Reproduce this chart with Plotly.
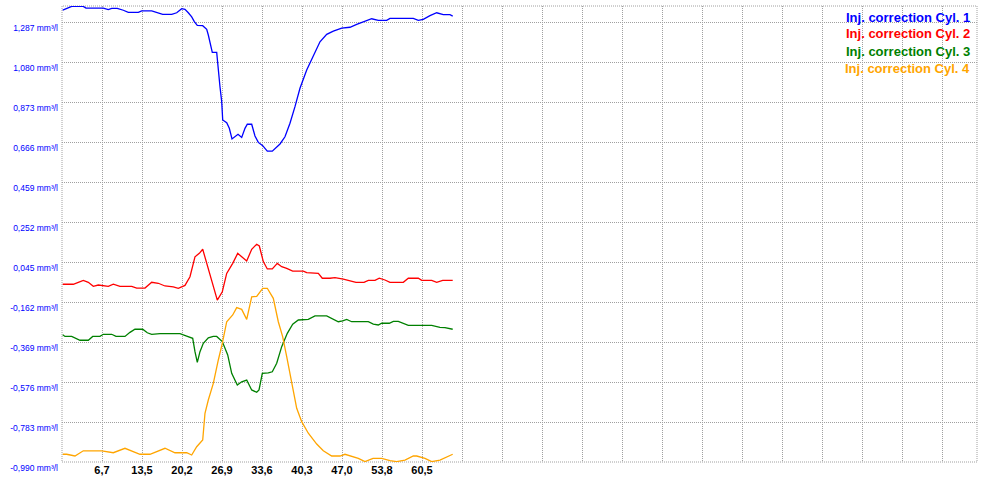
import plotly.graph_objects as go

# ---------------- data ----------------
cyl1_x = [0.12, 0.79, 1.63, 3.58, 4.03, 6.94, 7.78, 8.35, 9.29, 10.30, 11.14, 12.82, 13.39, 15.07,
          15.91, 16.92, 18.43, 19.27, 20.11, 20.66, 21.22, 21.79, 22.23, 22.73, 23.64, 24.31, 24.58,
          24.86, 25.25, 25.99, 26.26, 26.54, 26.83, 27.00, 27.67, 28.11, 28.56, 29.57, 30.19, 30.74,
          31.13, 31.87, 32.42, 32.98, 33.72, 34.49, 35.33, 36.62, 37.46, 38.30, 39.14, 39.98, 41.11,
          42.22, 43.34, 44.47, 45.58, 46.99, 48.38, 49.51, 50.90, 52.03, 53.14, 54.55, 55.10, 59.02,
          59.86, 60.70, 61.82, 62.95, 64.06, 65.18, 65.64]
cyl1_y = [1.349, 1.358, 1.368, 1.368, 1.359, 1.359, 1.351, 1.358, 1.358, 1.348, 1.337, 1.337, 1.345, 1.345,
          1.337, 1.327, 1.327, 1.335, 1.356, 1.353, 1.335, 1.314, 1.289, 1.270, 1.268, 1.249, 1.220,
          1.177, 1.130, 1.130, 1.022, 0.952, 0.875, 0.780, 0.766, 0.737, 0.682, 0.706, 0.690, 0.737,
          0.758, 0.758, 0.697, 0.664, 0.647, 0.619, 0.619, 0.656, 0.693, 0.763, 0.849, 0.944, 1.039,
          1.116, 1.185, 1.223, 1.240, 1.256, 1.260, 1.275, 1.291, 1.304, 1.296, 1.296, 1.306, 1.306,
          1.296, 1.301, 1.320, 1.335, 1.325, 1.325, 1.318]

cyl2_x = [0.12, 1.90, 2.74, 3.58, 4.42, 5.26, 6.10, 6.94, 7.78, 8.62, 9.74, 11.71, 12.55, 13.94, 15.07,
          16.18, 17.30, 18.70, 19.54, 20.66, 21.50, 22.34, 23.07, 23.64, 24.31, 25.42, 26.09, 26.93,
          27.67, 28.68, 29.52, 30.19, 31.03, 31.87, 32.71, 33.15, 33.82, 34.49, 35.33, 36.17, 36.91,
          37.75, 38.76, 40.54, 41.11, 43.06, 43.73, 45.02, 45.86, 47.26, 48.10, 49.39, 50.74, 51.46,
          52.58, 53.30, 54.26, 55.10, 57.34, 58.18, 59.86, 60.43, 62.11, 62.95, 63.96, 65.64]
cyl2_y = [-0.070, -0.070, -0.060, -0.050, -0.060, -0.081, -0.074, -0.076, -0.081, -0.070, -0.081, -0.081,
          -0.090, -0.090, -0.060, -0.065, -0.079, -0.084, -0.091, -0.076, -0.031, 0.072, 0.090, 0.111,
          0.038, -0.074, -0.152, -0.109, -0.014, 0.038, 0.090, 0.072, 0.050, 0.111, 0.137, 0.128, 0.047,
          0.009, 0.009, 0.038, 0.021, 0.012, -0.002, -0.002, -0.010, -0.014, -0.039, -0.039, -0.036,
          -0.043, -0.050, -0.060, -0.060, -0.050, -0.050, -0.039, -0.048, -0.060, -0.060, -0.039, -0.039,
          -0.050, -0.050, -0.060, -0.050, -0.050]

cyl3_x = [0.12, 0.50, 1.63, 3.02, 4.42, 5.16, 6.38, 6.94, 8.35, 9.07, 10.58, 11.42, 12.26, 13.56, 14.33,
          15.07, 16.46, 19.82, 20.95, 21.96, 22.34, 22.73, 23.18, 23.74, 24.58, 25.42, 25.99, 26.93,
          27.84, 28.51, 29.45, 30.19, 31.03, 31.87, 32.71, 33.10, 33.65, 34.66, 35.33, 36.07, 36.91,
          37.85, 38.76, 39.70, 41.38, 42.50, 44.47, 45.30, 46.42, 47.16, 47.83, 48.67, 51.46, 52.30,
          53.14, 53.71, 54.99, 55.66, 56.50, 58.18, 62.11, 63.50, 64.34, 65.64]
cyl3_y = [-0.331, -0.340, -0.340, -0.360, -0.360, -0.340, -0.340, -0.329, -0.329, -0.340, -0.340, -0.319,
          -0.303, -0.303, -0.321, -0.329, -0.326, -0.326, -0.338, -0.350, -0.419, -0.474, -0.419, -0.376,
          -0.347, -0.340, -0.340, -0.367, -0.436, -0.531, -0.592, -0.575, -0.566, -0.617, -0.629, -0.617,
          -0.531, -0.529, -0.523, -0.479, -0.393, -0.324, -0.277, -0.255, -0.252, -0.234, -0.234, -0.246,
          -0.264, -0.260, -0.252, -0.264, -0.264, -0.276, -0.281, -0.272, -0.272, -0.262, -0.262, -0.283,
          -0.283, -0.293, -0.295, -0.303]

cyl4_x = [0.12, 0.79, 2.18, 3.58, 6.67, 8.62, 10.58, 13.10, 14.78, 17.30, 18.98, 20.95, 21.79, 22.63,
          23.64, 24.02, 24.58, 25.42, 26.26, 26.93, 27.67, 28.68, 29.35, 30.19, 31.03, 31.87, 32.71,
          33.72, 34.49, 35.50, 36.34, 37.08, 37.75, 38.59, 39.43, 40.27, 41.38, 42.79, 43.90, 45.31,
          46.70, 47.54, 49.78, 50.90, 52.25, 53.71, 55.10, 56.23, 57.62, 59.02, 59.59, 60.98, 62.11,
          63.50, 65.64]
cyl4_y = [-0.950, -0.950, -0.959, -0.932, -0.932, -0.942, -0.919, -0.950, -0.950, -0.919, -0.942, -0.942,
          -0.954, -0.911, -0.876, -0.738, -0.669, -0.583, -0.462, -0.376, -0.264, -0.229, -0.191, -0.200,
          -0.252, -0.135, -0.133, -0.091, -0.091, -0.143, -0.264, -0.342, -0.445, -0.583, -0.712, -0.781,
          -0.841, -0.897, -0.932, -0.959, -0.959, -0.950, -0.971, -0.988, -0.971, -0.971, -0.983, -0.988,
          -0.980, -0.959, -0.959, -0.971, -0.988, -0.980, -0.950]

series_names = ["Inj. correction Cyl. 1", "Inj. correction Cyl. 2",
                "Inj. correction Cyl. 3", "Inj. correction Cyl. 4"]
series_colors = ["#0000FF", "#FF0000", "#008000", "#FFA500"]

y_tick_vals = [-0.990, -0.783, -0.576, -0.369, -0.162, 0.045, 0.252, 0.459, 0.666, 0.873, 1.080, 1.287]
y_tick_text = ["-0,990 mm³/l", "-0,783 mm³/l", "-0,576 mm³/l", "-0,369 mm³/l", "-0,162 mm³/l",
               "0,045 mm³/l", "0,252 mm³/l", "0,459 mm³/l", "0,666 mm³/l", "0,873 mm³/l",
               "1,080 mm³/l", "1,287 mm³/l"]
x_tick_labels = ["6,7", "13,5", "20,2", "26,9", "33,6", "40,3", "47,0", "53,8", "60,5"]
x_step = 6.72
x_grid_count = 22
x_max = 153.72
y_min, y_max = -0.990, 1.370

# ---------------- figure ----------------
fig = go.Figure()
for xs, ys, nm, col in zip([cyl1_x, cyl2_x, cyl3_x, cyl4_x], [cyl1_y, cyl2_y, cyl3_y, cyl4_y],
                           series_names, series_colors):
    fig.add_trace(go.Scatter(x=xs, y=ys, mode="lines", name=nm,
                             line=dict(color=col, width=1.3), showlegend=False))

x_tick_vals = [x_step * i for i in range(1, x_grid_count + 1)]
x_tick_text = x_tick_labels + [""] * (x_grid_count - len(x_tick_labels))

grid_dash = "1px,1px"
grid_col = "#A0A0A0"

fig.update_xaxes(range=[0, x_max], tickvals=x_tick_vals, ticktext=x_tick_text, automargin=False,
                 showgrid=True, gridcolor=grid_col, griddash=grid_dash, gridwidth=1,
                 zeroline=False, showline=False, ticks="",
                 tickfont=dict(family="Arial", size=11, color="#000000", weight="bold"))
fig.update_yaxes(range=[y_min, y_max], tickvals=y_tick_vals, ticktext=y_tick_text, automargin=False,
                 showgrid=True, gridcolor=grid_col, griddash=grid_dash, gridwidth=1,
                 zeroline=False, showline=False, ticks="", ticklabelposition="outside bottom",
                 ticklabelstandoff=3,
                 tickfont=dict(family="Arial", size=8.5, color="#0000FF"))

fig.add_shape(type="rect", xref="paper", yref="paper", x0=0, x1=1, y0=0, y1=1,
              line=dict(color=grid_col, width=1, dash=grid_dash), layer="below")

for i, (nm, col) in enumerate(zip(series_names, series_colors)):
    fig.add_annotation(text="<b>" + nm + "</b>", xref="paper", yref="paper",
                       x=1 - 5 / 915, y=1 - (11 + 17 * i) / 456, xanchor="right", yanchor="middle",
                       showarrow=False, font=dict(family="Arial", size=13, color=col))

fig.update_layout(width=983, height=481, margin=dict(l=62, r=6, t=6, b=19),
                  paper_bgcolor="white", plot_bgcolor="white", hovermode=False)

fig.write_html("out.html", config={"displayModeBar": False, "staticPlot": True},
               post_script="document.body.style.margin='0';document.body.style.overflow='hidden';")
